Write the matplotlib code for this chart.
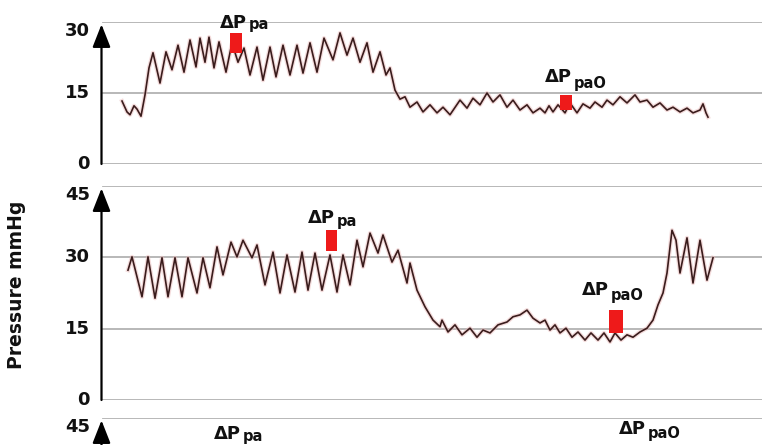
import matplotlib
matplotlib.use("Agg")
import matplotlib.pyplot as plt

plt.rcParams['font.family'] = ['DejaVu Sans']

# ---------------- data (time in samples, pressure in mmHg) ----------------
trace1_t = [22, 27, 30, 34, 37, 41, 45, 49, 53, 60, 66, 72, 78, 84, 90, 96, 100, 105,
            109, 114, 119, 126, 132, 138, 144, 150, 157, 163, 170, 176, 183, 190, 197,
            203, 210, 217, 224, 233, 240, 247, 253, 260, 267, 273, 280, 286, 290, 295,
            300, 305, 310, 317, 323, 330, 337, 343, 350, 360, 367, 373, 380, 387, 393,
            400, 407, 413, 420, 427, 433, 440, 445, 449, 453, 458, 465, 470, 477, 483,
            490, 495, 502, 507, 513, 520, 527, 535, 540, 547, 553, 560, 567, 573, 580,
            587, 593, 600, 603, 606, 608]
trace1_v = [13.3, 11.0, 10.4, 12.3, 11.6, 10.1, 14.6, 20.3, 23.5, 17.1, 23.7, 19.9, 25.1,
            19.4, 26.2, 20.5, 26.6, 21.5, 26.8, 20.3, 25.8, 19.4, 25.6, 21.5, 24.5, 18.8,
            24.7, 17.7, 24.7, 18.4, 25.1, 18.8, 25.1, 19.2, 25.6, 19.4, 26.6, 22.0, 27.7,
            23.0, 26.6, 21.5, 25.6, 19.4, 23.7, 18.8, 20.3, 15.6, 13.7, 14.2, 12.0, 13.1,
            11.0, 12.5, 10.8, 12.0, 10.4, 13.5, 11.8, 13.9, 12.5, 15.0, 13.1, 14.6, 12.0,
            13.5, 11.4, 12.5, 10.8, 11.8, 10.8, 12.3, 11.0, 12.5, 10.8, 12.9, 10.8, 12.7,
            11.8, 13.1, 12.0, 13.5, 12.5, 14.2, 12.9, 14.6, 13.1, 13.5, 12.0, 12.9, 11.4,
            12.0, 11.0, 11.8, 10.8, 11.4, 12.7, 10.8, 9.9]

trace2_t = [28, 32, 42, 48, 55, 62, 68, 75, 82, 88, 97, 103, 110, 117, 123, 131, 137, 143,
            152, 157, 165, 173, 180, 187, 195, 202, 208, 215, 222, 230, 237, 243, 250, 257,
            263, 270, 278, 283, 292, 298, 307, 310, 317, 325, 333, 340, 342, 348, 355, 362,
            370, 377, 383, 390, 398, 407, 413, 420, 427, 433, 440, 445, 450, 455, 460, 466,
            472, 478, 485, 491, 498, 504, 510, 515, 521, 527, 533, 540, 547, 553, 558, 563,
            567, 572, 576, 580, 587, 593, 600, 607, 613]
trace2_v = [27.3, 30.1, 21.7, 30.1, 21.4, 29.9, 21.7, 29.9, 21.7, 29.9, 22.5, 29.9, 23.6,
            32.2, 26.3, 33.2, 30.1, 33.6, 29.9, 32.6, 24.2, 31.1, 22.5, 30.5, 22.7, 31.1,
            23.1, 30.9, 23.1, 30.5, 22.7, 30.5, 24.2, 33.6, 28.0, 35.1, 30.9, 34.7, 29.0,
            31.5, 24.6, 28.8, 23.1, 19.6, 16.8, 15.4, 16.8, 14.3, 15.8, 13.7, 15.1, 13.2,
            14.7, 14.1, 15.8, 16.4, 17.5, 17.9, 18.9, 17.2, 16.2, 16.8, 14.7, 15.8, 14.1,
            15.1, 13.2, 14.3, 12.6, 14.1, 12.6, 14.1, 12.2, 14.1, 12.6, 13.7, 13.2, 14.3,
            15.1, 16.8, 20.0, 22.5, 26.7, 35.7, 33.6, 26.7, 34.1, 24.6, 33.6, 25.2, 29.9]

# red pulse-pressure markers: centre time, width, low, high
mark1_t = [136, 466]
mark1_w = [12, 12]
mark1_lo = [23.5, 11.4]
mark1_hi = [27.7, 14.6]
mark2_t = [231.5, 516]
mark2_w = [11, 14]
mark2_lo = [31.3, 14.1]
mark2_hi = [35.7, 18.9]

# annotation labels: time, baseline value, subscript, subscript drop (pt)
lab1 = [(120, 28.7, "pa", 0.5), (445, 17.3, "paO", 4.0)]
lab2 = [(208, 37.2, "pa", 2.0), (482, 22.1, "paO", 3.5)]
lab3 = [(114, 40.5, "pa", 1.5), (519, 41.6, "paO", 2.5)]

ticks1 = [0, 15, 30]
ticks2 = [0, 15, 30, 45]
ticks3 = [45]

# ---------------- figure ----------------
W, H = 762, 445
fig = plt.figure(figsize=(W / 100, H / 100), dpi=100)
fig.patch.set_facecolor('white')

def rect(top, bot, left=100, right=762):
    return [left / W, 1 - bot / H, (right - left) / W, (bot - top) / H]

ax1 = fig.add_axes(rect(22, 164))
ax2 = fig.add_axes(rect(186, 400))
ax3 = fig.add_axes(rect(418, 632))

GRID = '#b2b2b2'
TRACE = '#3a1c1c'
RED = '#ee1a1a'

def setup(ax, ylim, ticks, tip):
    ax.set_xlim(0, 662)
    ax.set_ylim(*ylim)
    ax.set_facecolor('none')
    for s in ax.spines.values():
        s.set_visible(False)
    ax.set_xticks([])
    ax.set_yticks([])
    for v in ticks:
        ax.axhline(v, xmin=3 / 662, xmax=1, color=GRID, lw=1.3, zorder=1)
        va = 'top' if v == ylim[1] else 'center'
        ax.text(-10 / 662, v, str(v), transform=ax.get_yaxis_transform(),
                ha='right', va=va, fontsize=13, fontweight='bold', color='#111111')
    ax.annotate('', xy=(1.5 / 662, tip), xytext=(1.5 / 662, ylim[0]),
                xycoords=ax.get_yaxis_transform(), textcoords=ax.get_yaxis_transform(),
                arrowprops=dict(arrowstyle='-|>,head_length=14,head_width=5.5',
                                mutation_scale=1, lw=1.6, color='black',
                                shrinkA=0, shrinkB=0), annotation_clip=False)

def labels(ax, labs):
    for t, v, sub, drop in labs:
        tx = ax.text(t, v, "ΔP", ha='left', va='baseline', fontsize=13,
                     fontweight='bold', color='#111111', clip_on=False, zorder=5)
        ax.annotate(sub, xy=(1, v), xycoords=(tx, ax.transData),
                    xytext=(1, -drop), textcoords='offset points',
                    ha='left', va='baseline', fontsize=10.5, fontweight='bold',
                    color='#111111', annotation_clip=False, zorder=5)

setup(ax1, (0, 30), ticks1, 29.5)
setup(ax2, (0, 45), ticks2, 44.5)
setup(ax3, (0, 45), ticks3, 44.5)

ax1.plot(trace1_t, trace1_v, color='#e9b8b8', lw=3.0, alpha=0.5, zorder=2, clip_on=False)
ax1.plot(trace1_t, trace1_v, color=TRACE, lw=1.2, zorder=3, clip_on=False)
ax2.plot(trace2_t, trace2_v, color='#e9b8b8', lw=3.0, alpha=0.5, zorder=2, clip_on=False)
ax2.plot(trace2_t, trace2_v, color=TRACE, lw=1.2, zorder=3, clip_on=False)

ax1.bar(mark1_t, [h - l for h, l in zip(mark1_hi, mark1_lo)], bottom=mark1_lo,
        width=mark1_w, color=RED, zorder=4, clip_on=False)
ax2.bar(mark2_t, [h - l for h, l in zip(mark2_hi, mark2_lo)], bottom=mark2_lo,
        width=mark2_w, color=RED, zorder=4, clip_on=False)

labels(ax1, lab1)
labels(ax2, lab2)
labels(ax3, lab3)

fig.text(16.5 / W, 1 - 284.5 / H, "Pressure mmHg", rotation=90, ha='center',
         va='center', fontsize=13.5, fontweight='bold', color='#111111')

fig.savefig('out.png', dpi=100)
